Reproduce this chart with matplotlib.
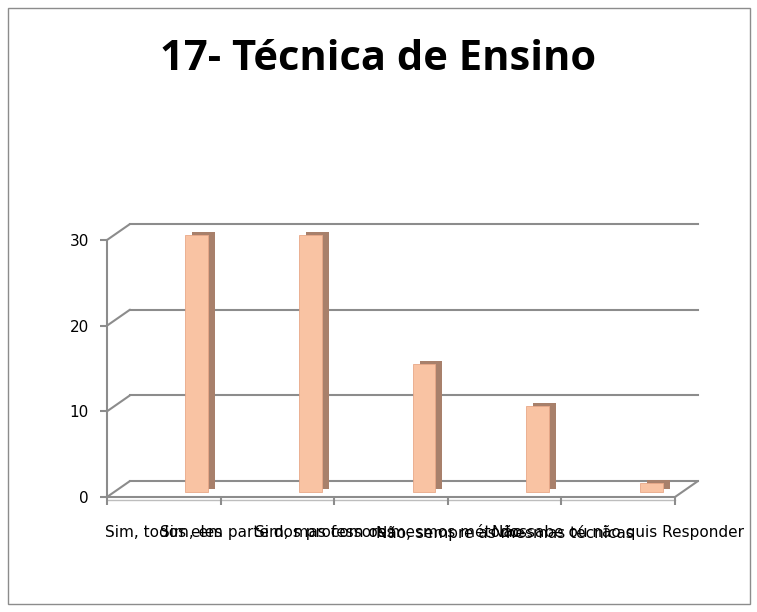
import matplotlib
matplotlib.use("Agg")
import matplotlib.pyplot as plt
import matplotlib.transforms as mtransforms
from matplotlib.patches import Rectangle

# chart data
categories = [
    "Sim, todos eles",
    "Sim, em parte dos professores",
    "Sim, mas com os mesmos métodos",
    "Não, sempre as mesmas técnicas",
    "Não sabe ou não quis Responder",
]
values = [30, 30, 15, 10, 1]
y_ticks = [0, 10, 20, 30]
title = "17- Técnica de Ensino"

DPI = 100
fig = plt.figure(figsize=(7.57, 6.12), dpi=DPI)
fig.patch.set_facecolor("white")

# outer frame of the chart
fig.patches.append(Rectangle((8 / 757, 8 / 612), 742 / 757, 596 / 612,
                             transform=fig.transFigure, fill=False,
                             edgecolor="#8c8c8c", lw=1))

fig.text(0.5, 0.902, title, ha="center", va="center",
         fontsize=30, fontweight="bold", family="Open Sans", color="#000000")

# front plane of the pseudo-3d plot
ax = fig.add_axes([107 / 757, 1 - 497 / 612, 568 / 757, 257 / 612])
n = len(categories)
ax.set_xlim(0, n)
ax.set_ylim(0, max(y_ticks))
for s in ["top", "right"]:
    ax.spines[s].set_visible(False)
for s in ["left", "bottom"]:
    ax.spines[s].set_color("#8c8c8c")
    ax.spines[s].set_linewidth(1.5)

# depth offset (pixels)
ddx, ddy = 23, 16
back = ax.transData + mtransforms.ScaledTranslation(ddx / DPI, ddy / DPI, fig.dpi_scale_trans)

# back wall gridlines and the slanted left wall edges
for v in y_ticks:
    ax.plot([0, n], [v, v], color="#8c8c8c", lw=1.5, transform=back, zorder=1, clip_on=False)
    ax.annotate("", xy=(0, v), xytext=(ddx, ddy), textcoords="offset pixels",
                arrowprops=dict(arrowstyle="-", color="#8c8c8c", lw=1.5,
                                shrinkA=0, shrinkB=0), annotation_clip=False)
# right edge of the floor
ax.annotate("", xy=(n, 0), xytext=(ddx, ddy), textcoords="offset pixels",
            arrowprops=dict(arrowstyle="-", color="#8c8c8c", lw=1.5,
                            shrinkA=0, shrinkB=0), annotation_clip=False)
floor_front = ax.transData + mtransforms.ScaledTranslation(0, -3 / DPI, fig.dpi_scale_trans)
ax.plot([0, n], [0, 0], color="#bdbdbd", lw=1, transform=floor_front, clip_on=False, zorder=1)

# bars, placed in the middle of the depth
x = [i + 0.5 for i in range(n)]
bar_off = mtransforms.ScaledTranslation(33 / DPI, 5 / DPI, fig.dpi_scale_trans)
side_off = mtransforms.ScaledTranslation(40 / DPI, 8 / DPI, fig.dpi_scale_trans)
ax.bar(x, values, width=0.2, color="#a8806b", transform=ax.transData + side_off,
       zorder=3, clip_on=False)
ax.bar(x, values, width=0.2, color="#f9c3a3", edgecolor="#e8a888", lw=0.6,
       transform=ax.transData + bar_off, zorder=4, clip_on=False)

ax.set_yticks(y_ticks)
ax.set_yticklabels([str(v) for v in y_ticks], fontsize=11, family="DejaVu Sans")
ax.tick_params(axis="y", length=5, width=1.5, color="#8c8c8c", pad=8)
ax.set_xticks(range(n + 1))
ax.set_xticklabels([""] * (n + 1))
ax.tick_params(axis="x", length=6, width=1.5, color="#8c8c8c", direction="out")
ax.set_xticks(x, minor=True)
ax.set_xticklabels(categories, minor=True, fontsize=11, family="DejaVu Sans")
ax.tick_params(axis="x", which="minor", length=0, pad=20)

fig.savefig("out.png", dpi=DPI, facecolor="white")
